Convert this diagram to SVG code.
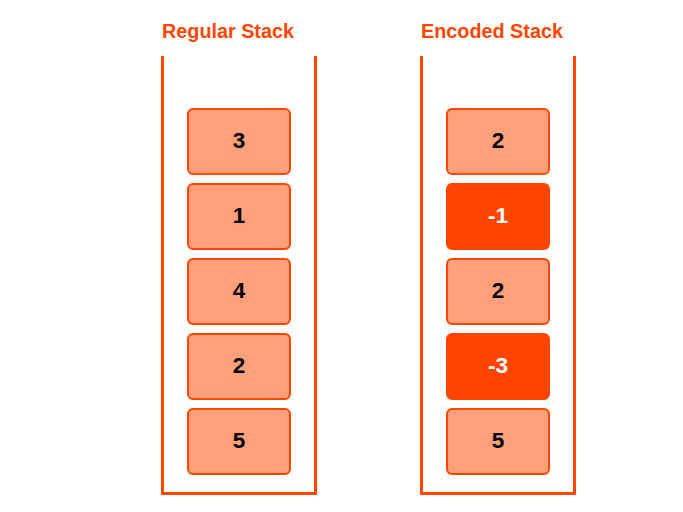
<svg xmlns="http://www.w3.org/2000/svg" width="683" height="512" viewBox="0 0 683 512">
<style>
.title{font-family:"Liberation Sans",Arial,sans-serif;font-weight:bold;font-size:19.8px;fill:#FF4500;text-anchor:middle}
.cont{fill:none;stroke:#FF4500;stroke-width:3}
.box{fill:#FFA07A;stroke:#FF4500;stroke-width:2}
.dark{fill:#FF4500;stroke:#FF4500;stroke-width:2}
.num{font-family:"Liberation Sans",Arial,sans-serif;font-weight:bold;font-size:22.5px;fill:#000;text-anchor:middle}
.wnum{font-family:"Liberation Sans",Arial,sans-serif;font-weight:bold;font-size:22.5px;fill:#fff;text-anchor:middle}
</style>
<rect width="683" height="512" fill="#fff"/>
<text class="title" x="228" y="38">Regular Stack</text>
<text class="title" x="492" y="38">Encoded Stack</text>
<g id="connectors"></g>
<g id="regular-container"><path class="cont" d="M162.5,56 V493.5 H315.5 V56"/></g>
<g id="encoded-container"><path class="cont" d="M421.5,56 V493.5 H574.5 V56"/></g>
<g id="r1"><rect class="box" x="188" y="109" width="102" height="65" rx="5"/><text class="num" x="239" y="148">3</text></g>
<g id="r2"><rect class="box" x="188" y="184" width="102" height="65" rx="5"/><text class="num" x="239" y="223">1</text></g>
<g id="r3"><rect class="box" x="188" y="259" width="102" height="65" rx="5"/><text class="num" x="239" y="298">4</text></g>
<g id="r4"><rect class="box" x="188" y="334" width="102" height="65" rx="5"/><text class="num" x="239" y="373">2</text></g>
<g id="r5"><rect class="box" x="188" y="409" width="102" height="65" rx="5"/><text class="num" x="239" y="448">5</text></g>
<g id="e1"><rect class="box" x="447" y="109" width="102" height="65" rx="5"/><text class="num" x="498" y="148">2</text></g>
<g id="e2"><rect class="dark" x="447" y="184" width="102" height="65" rx="5"/><text class="wnum" x="498" y="223">-1</text></g>
<g id="e3"><rect class="box" x="447" y="259" width="102" height="65" rx="5"/><text class="num" x="498" y="298">2</text></g>
<g id="e4"><rect class="dark" x="447" y="334" width="102" height="65" rx="5"/><text class="wnum" x="498" y="373">-3</text></g>
<g id="e5"><rect class="box" x="447" y="409" width="102" height="65" rx="5"/><text class="num" x="498" y="448">5</text></g>
</svg>
